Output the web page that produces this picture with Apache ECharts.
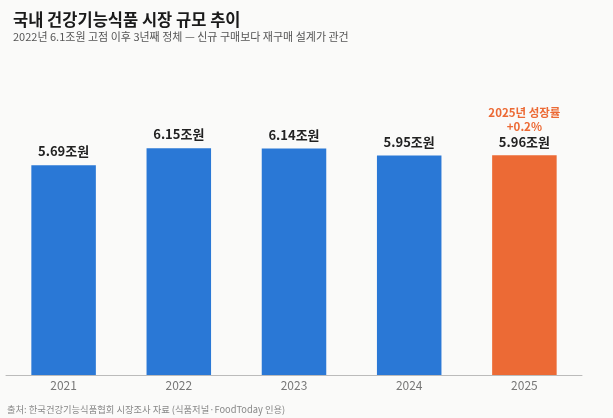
<!DOCTYPE html>
<html>
<head>
<meta charset="utf-8">
<script src="https://cdn.jsdelivr.net/npm/echarts@6/dist/echarts.min.js"></script>
<style>
  html, body { margin: 0; padding: 0; background: #fafaf9; }
  #chart { width: 613px; height: 418px; }
</style>
</head>
<body>
<div id="chart"></div>
<script>
// 연도별 시장 규모 (조원)
var years = ['2021', '2022', '2023', '2024', '2025'];
var sizes = [5.69, 6.15, 6.14, 5.95, 5.96];
var growthNote = ['2025년 성장률', '+0.2%'];

var chart = echarts.init(document.getElementById('chart'));
var font = '"Noto Sans CJK KR", "Noto Sans", sans-serif';

var barData = sizes.map(function (v, i) {
  var last = i === sizes.length - 1;
  return {
    value: v,
    itemStyle: { color: last ? '#ec6a35' : '#2a78d6' },
    label: last ? {
      formatter: function (p) {
        return '{note|' + growthNote[0] + '}\n{note|' + growthNote[1] + '}\n{val|' + p.value.toFixed(2) + '조원}';
      }
    } : undefined
  };
});

var option = {
  backgroundColor: '#fafaf9',
  textStyle: { fontFamily: font },
  title: {
    text: '국내 건강기능식품 시장 규모 추이',
    subtext: '2022년 6.1조원 고점 이후 3년째 정체 — 신규 구매보다 재구매 설계가 관건',
    left: 8,
    top: 6,
    itemGap: 4,
    textStyle: { fontFamily: font, fontSize: 16.5, fontWeight: 'bold', color: '#1a1a1a' },
    subtextStyle: { fontFamily: font, fontSize: 11, color: '#555' }
  },
  grid: { left: 6, right: 31, top: 80, bottom: 43 },
  xAxis: {
    type: 'category',
    data: years,
    axisTick: { show: false },
    axisLine: { lineStyle: { color: '#bbb' } },
    axisLabel: { fontFamily: font, fontSize: 12, color: '#777', margin: 4 }
  },
  yAxis: {
    type: 'value',
    min: 0,
    max: 8,
    show: false,
    splitLine: { show: false }
  },
  series: [{
    type: 'bar',
    data: barData,
    barWidth: '56%',
    label: {
      show: true,
      position: 'top',
      distance: 6,
      fontFamily: font,
      fontSize: 13,
      fontWeight: 'bold',
      color: '#222',
      lineHeight: 16,
      formatter: function (p) { return p.value.toFixed(2) + '조원'; },
      rich: {
        note: { fontFamily: font, fontSize: 11.5, fontWeight: 'bold', color: '#ec6a35', lineHeight: 14, align: 'center' },
        val: { fontFamily: font, fontSize: 13, fontWeight: 'bold', color: '#222', lineHeight: 16, align: 'center', padding: [2, 0, 0, 0] }
      }
    }
  }],
  graphic: [{
    type: 'text',
    left: 7,
    top: 405,
    style: {
      text: '출처: 한국건강기능식품협회 시장조사 자료 (식품저널·FoodToday 인용)',
      fontFamily: font,
      fontSize: 9.3,
      fill: '#888'
    }
  }]
};

chart.setOption(option);
</script>
</body>
</html>
